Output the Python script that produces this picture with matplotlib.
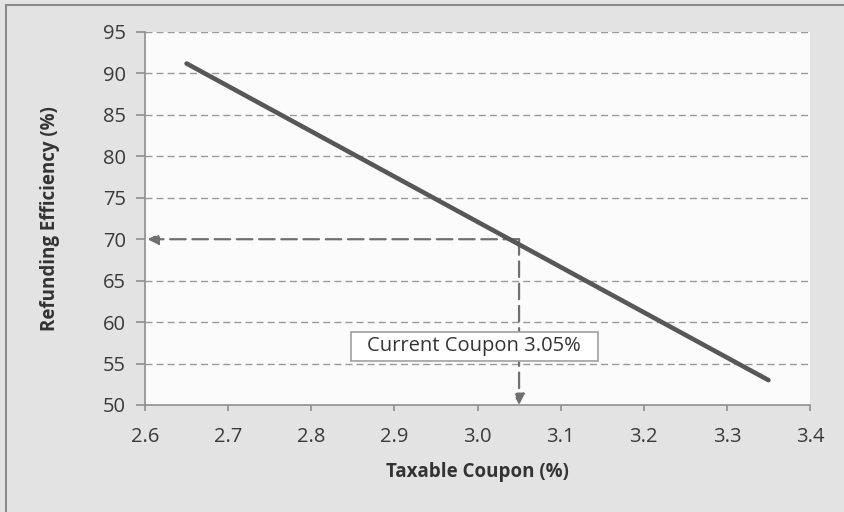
import matplotlib
matplotlib.use("Agg")
import matplotlib.pyplot as plt
from matplotlib.lines import Line2D
from matplotlib.patches import Rectangle

# Data
coupon = [2.65, 3.35]
efficiency = [91.2, 53.0]
current_coupon = 3.05
current_eff = 70
x_ticks = [2.6, 2.7, 2.8, 2.9, 3.0, 3.1, 3.2, 3.3, 3.4]
y_ticks = [50, 55, 60, 65, 70, 75, 80, 85, 90, 95]
annotation_text = "Current Coupon 3.05%"

plt.rcParams['font.family'] = ['Open Sans', 'DejaVu Sans']

W, H = 845, 512
fig = plt.figure(figsize=(W/100, H/100), dpi=100)
fig.patch.set_facecolor('#e3e3e3')
ax = fig.add_axes([145/W, 1 - 405/H, (810-145)/W, (405-32)/H])
ax.set_facecolor('#fbfbfb')

ax.plot(coupon, efficiency, color='#575757', lw=3.3, solid_capstyle='round', zorder=3)

ax.set_xlim(2.6, 3.4)
ax.set_ylim(50, 95)
ax.set_xticks(x_ticks)
ax.set_xticklabels([f"{v:.1f}" for v in x_ticks])
ax.set_yticks(y_ticks)
ax.set_yticklabels([str(v) for v in y_ticks])

for y in y_ticks[1:]:
    if y == current_eff:
        continue
    ax.axhline(y, color='#9a9a9a', lw=1.0, ls=(0, (5, 3)), zorder=1)

for s in ['top', 'right']:
    ax.spines[s].set_visible(False)
for s in ['left', 'bottom']:
    ax.spines[s].set_color('#8e8e8e')
    ax.spines[s].set_linewidth(1.2)
ax.tick_params(axis='both', colors='#8e8e8e', width=1.2, labelsize=14.5,
               labelcolor='#3a3a3a')
ax.tick_params(axis='x', length=4.5, pad=11)
ax.tick_params(axis='y', length=6.5, pad=7)

ax.set_xlabel('Taxable Coupon (%)', fontsize=13.5, fontweight='bold', color='#333333')
ax.set_ylabel('Refunding Efficiency (%)', fontsize=13.5, fontweight='bold', color='#333333')
ax.xaxis.set_label_coords(0.5, -(472-405)/(405-32), transform=ax.transAxes)
ax.yaxis.set_label_coords(-(145-50)/(810-145), 0.5, transform=ax.transAxes)
ax.xaxis.label.set_va('center')
ax.yaxis.label.set_va('center')

# arrows
arrow_color = '#707070'
ax.annotate('', xy=(2.603, current_eff), xytext=(current_coupon, current_eff),
            arrowprops=dict(arrowstyle='-|>', color=arrow_color, lw=1.6, ls=(0, (7, 3)),
                            mutation_scale=16, shrinkA=0, shrinkB=0), zorder=2)
ax.annotate('', xy=(current_coupon, 50.0), xytext=(current_coupon, current_eff),
            arrowprops=dict(arrowstyle='-|>', color=arrow_color, lw=1.6, ls=(0, (7, 3)),
                            mutation_scale=16, shrinkA=0, shrinkB=0), zorder=2)

# annotation label with box (box sized in axes fraction around the text)
tx, ty = 2.996, 57.06
ax.text(tx, ty, annotation_text, ha='center', va='center', fontsize=14.5, color='#333333',
        zorder=5)
bw, bh = 247/(810-145), 29/(405-32)
cx = (tx - 2.6) / 0.8
cy = (ty - 50) / 45
ax.add_patch(Rectangle((cx - bw/2, cy - bh/2), bw, bh, transform=ax.transAxes,
                       facecolor='white', edgecolor='#a0a0a0', lw=1.2, zorder=4))

# figure border (top and left)
fig.add_artist(Line2D([6/W, 1], [1 - 5/H, 1 - 5/H], color='#8c8c8c', lw=1.5))
fig.add_artist(Line2D([6/W, 6/W], [0, 1 - 5/H], color='#8c8c8c', lw=1.5))

fig.savefig('out.png', dpi=100, facecolor=fig.get_facecolor())
